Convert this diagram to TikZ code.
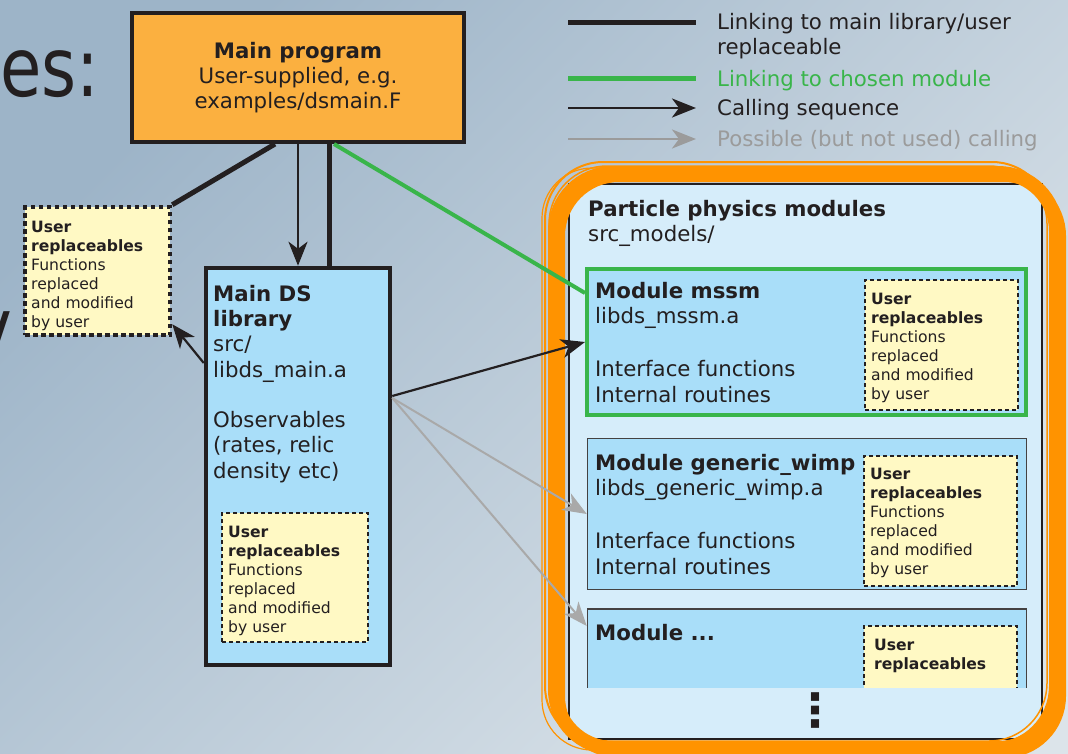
\documentclass[tikz,border=0pt]{standalone}
\usepackage{fontspec}
\setmainfont{DejaVu Sans}
\usetikzlibrary{arrows.meta}

\definecolor{ink}{HTML}{231F20}
\definecolor{progorange}{HTML}{FBB040}
\definecolor{libblue}{HTML}{A9DEF9}
\definecolor{partblue}{HTML}{D6EDFA}
\definecolor{ryellow}{HTML}{FFF9C4}
\definecolor{linkgreen}{HTML}{39B54A}
\definecolor{possgray}{HTML}{A9A9A9}
\definecolor{posstext}{HTML}{9B9B9B}
\definecolor{ringorange}{HTML}{FF9300}
\definecolor{bgtl}{HTML}{9DB4C8}
\definecolor{bgbr}{HTML}{DCE4EA}

\newcommand{\bigfont}{\fontsize{21.3}{25.3}\selectfont}
\newcommand{\smallfont}{\fontsize{15.6}{19.1}\selectfont}
\newcommand{\bigtop}{\rule{0pt}{18pt}}
\newcommand{\smalltop}{\rule{0pt}{13pt}}

\tikzset{
  mainbox/.style={draw=ink, line width=4pt, fill=progorange, inner sep=0pt, align=center, font=\bigfont, text=ink},
  libbox/.style={draw=ink, line width=4.5pt, fill=libblue, inner sep=0pt},
  partbox/.style={draw=ink, line width=2pt, fill=partblue, inner sep=0pt},
  modbox/.style={draw=ink!85, line width=1.5pt, fill=libblue, inner sep=0pt},
  chosenbox/.style={modbox, draw=linkgreen, line width=4pt},
  userbox/.style={draw=ink, line width=1.2pt, dash pattern=on 4pt off 3pt, fill=ryellow, inner sep=0pt},
  userdotted/.style={userbox, line width=4.5pt, dash pattern=on 4.5pt off 3.5pt},
  bigtext/.style={anchor=north west, inner sep=0pt, align=left, font=\bigfont, text=ink},
  smalltext/.style={anchor=north west, inner sep=0pt, align=left, font=\smallfont, text=ink},
  linkline/.style={draw=ink, line width=5pt},
  greenline/.style={draw=linkgreen, line width=4pt},
  callarrow/.style={draw=ink, line width=2.2pt, -{Stealth[length=24pt, width=19pt, inset=7pt]}},
  possarrow/.style={callarrow, draw=possgray, line width=2pt},
  ring/.style={draw=ringorange, rounded corners=58pt},
}

\begin{document}
\begin{tikzpicture}[x=1pt, y=-1pt]
\useasboundingbox (0,0) rectangle (1068,753);
\clip (0,0) rectangle (1068,753);
% slide background
\shade[top color=bgtl, bottom color=bgbr, shading angle=45] (0,0) rectangle (1068,753);
% bits of the slide text
\node[anchor=base west, inner sep=0pt, font=\fontsize{82}{82}\selectfont, text=ink, xscale=0.82] (title) at (0,96) {es:};
\node[anchor=base east, inner sep=0pt, font=\fontsize{82}{82}\selectfont, text=ink, xscale=0.82] (ybit) at (12,356) {y};

% main program
\node[mainbox, minimum width=332pt, minimum height=129pt] (main) at (298,77.5) {\textbf{Main program}\\User-supplied, e.g.\\examples/dsmain.F};

% user replaceables of the main program
\node[userdotted, minimum width=145pt, minimum height=128pt] (luser) at (97.5,271) {};
\node[smalltext] (lusertxt) at (31,219) {\smalltop\textbf{User}\\\textbf{replaceables}\\Functions\\replaced\\and modified\\by user};

% main DS library
\node[libbox, minimum width=184pt, minimum height=397pt] (lib) at (298,466.5) {};
\node[bigtext] (libtxt) at (213,283) {\bigtop\textbf{Main DS}\\\textbf{library}\\src/\\libds\_main.a\\[25pt]Observables\\(rates, relic\\density etc)};
\node[userbox, minimum width=146pt, minimum height=129pt] (libuser) at (295,577.5) {};
\node[smalltext] (libusertxt) at (228,524) {\smalltop\textbf{User}\\\textbf{replaceables}\\Functions\\replaced\\and modified\\by user};

% particle physics modules
\node[partbox, minimum width=473pt, minimum height=555pt] (part) at (805.5,461.5) {};
\node[bigtext] (parttxt) at (588,198) {\bigtop\textbf{Particle physics modules}\\src\_models/};

\node[chosenbox, minimum width=439pt, minimum height=146pt] (mssm) at (806.5,342) {};
\node[bigtext] (mssmtxt) at (595,280) {\bigtop\textbf{Module mssm}\\libds\_mssm.a\\[28pt]Interface functions\\Internal routines};
\node[userbox, minimum width=153pt, minimum height=130pt] (mssmuser) at (941.5,345) {};
\node[smalltext] (mssmusertxt) at (871,291) {\smalltop\textbf{User}\\\textbf{replaceables}\\Functions\\replaced\\and modified\\by user};

\node[modbox, minimum width=439pt, minimum height=151pt] (generic) at (807,514) {};
\node[bigtext] (generictxt) at (595,452) {\bigtop\textbf{Module generic\_wimp}\\libds\_generic\_wimp.a\\[28pt]Interface functions\\Internal routines};
\node[userbox, minimum width=153pt, minimum height=130pt] (genericuser) at (940.5,521) {};
\node[smalltext] (genericusertxt) at (870,466) {\smalltop\textbf{User}\\\textbf{replaceables}\\Functions\\replaced\\and modified\\by user};

\node[modbox, minimum width=439pt, minimum height=90pt] (modx) at (807,654) {};
\node[userbox, minimum width=153pt, minimum height=80pt] (modxuser) at (940.5,666) {};
% list cut off at the bottom
\fill[partblue] (570,688) rectangle (1041,738);
\node[bigtext] (modxtxt) at (595,622) {\bigtop\textbf{Module ...}};
\node[smalltext] (modxusertxt) at (874,637) {\smalltop\textbf{User}\\\textbf{replaceables}};
\node[inner sep=0pt, font=\fontsize{46}{46}\selectfont\bfseries, text=ink] (vdots) at (815,711) {⋮};

% hand drawn ring
\draw[ring, line width=14pt] (555,173) rectangle (1056,748);
\draw[ring, line width=8pt] (561,178) rectangle (1062,754);
\draw[ring, line width=2pt] (545,162) rectangle (1050,744);
\draw[ring, line width=1.5pt] (549,166) rectangle (1047,741);
\draw[ring, line width=1.2pt, rounded corners=50pt] (542,168) rectangle (1053,750);

% connectors
\draw[linkline] ([xshift=-23pt]main.south) -- (luser.north east);
\draw[callarrow] (main.south) -- (lib.north);
\draw[linkline] ([xshift=31pt]main.south) -- ([xshift=31pt]lib.north);
\draw[callarrow] ([yshift=103.5pt]lib.west) -- ([yshift=13pt]luser.south east);
\draw[greenline] ([xshift=36pt]main.south) -- ([yshift=49pt]mssm.west);
\draw[callarrow] ([yshift=70.5pt]lib.east) -- (mssm.west);
\draw[possarrow] ([yshift=68.5pt]lib.east) -- (generic.west);
\draw[possarrow] ([yshift=68.5pt]lib.east) -- ([yshift=28pt]modx.west);

% legend
\coordinate (lg1a) at (568,22);
\coordinate (lg1b) at (696,22);
\draw[linkline] (lg1a) -- (lg1b);
\node[bigtext] (lg1txt) at (717,11) {\bigtop Linking to main library/user\\replaceable};
\coordinate (lg2a) at (568,78);
\coordinate (lg2b) at (696,78);
\draw[greenline, line width=5pt] (lg2a) -- (lg2b);
\node[bigtext, text=linkgreen] (lg2txt) at (717,68) {\bigtop Linking to chosen module};
\coordinate (lg3a) at (568,108);
\coordinate (lg3b) at (696,108);
\draw[callarrow, line width=2.5pt] (lg3a) -- (lg3b);
\node[bigtext] (lg3txt) at (717,97) {\bigtop Calling sequence};
\coordinate (lg4a) at (568,139);
\coordinate (lg4b) at (696,139);
\draw[possarrow, draw=posstext, line width=2.5pt] (lg4a) -- (lg4b);
\node[bigtext, text=posstext] (lg4txt) at (717,128) {\bigtop Possible (but not used) calling};
\end{tikzpicture}
\end{document}
